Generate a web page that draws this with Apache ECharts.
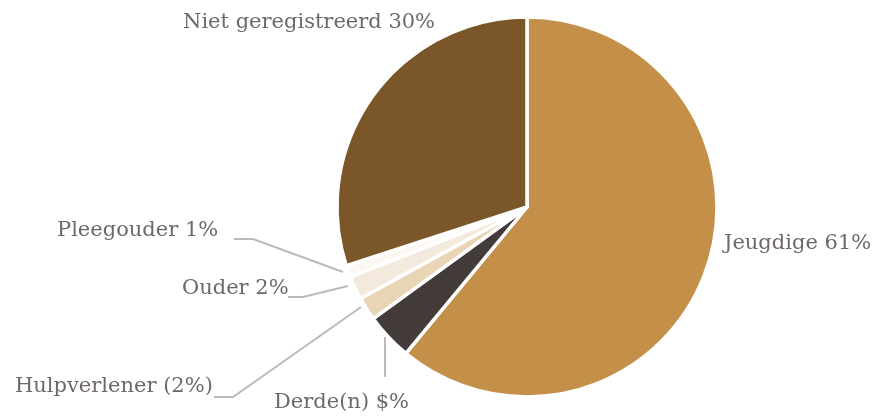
<!DOCTYPE html>
<html>
<head>
<meta charset="utf-8">
<script src="https://cdn.jsdelivr.net/npm/echarts@6/dist/echarts.min.js"></script>
<style>
  html, body { margin: 0; padding: 0; background: #fff; }
  #chart-container { width: 877px; height: 417px; }
</style>
</head>
<body>
<div id="chart-container"></div>
<script>
// chart data
var categories = ['Jeugdige', 'Derde(n)', 'Hulpverlener', 'Ouder', 'Pleegouder', 'Niet geregistreerd'];
var values = [61, 4, 2, 2, 1, 30];
var labelTexts = ['Jeugdige 61%', 'Derde(n) $%', 'Hulpverlener (2%)', 'Ouder 2%', 'Pleegouder 1%', 'Niet geregistreerd 30%'];
var colors = ['#c48f48', '#433b3a', '#e8d5b6', '#f3eadd', '#fbf7f1', '#7a5628'];

// where each label sits (layout only)
var labelSpots = {
  'Jeugdige': { x: 724, y: 244, line: null },
  'Derde(n)': { x: 274, y: 403, line: [[385, 337], [385, 377]] },
  'Hulpverlener': { x: 15, y: 387, line: [[361, 307], [233, 397], [214, 397]] },
  'Ouder': { x: 182, y: 289, line: [[348, 286], [303, 297], [288, 297]] },
  'Pleegouder': { x: 57, y: 231, line: [[343, 272], [253, 239], [234, 239]] },
  'Niet geregistreerd': { x: 183, y: 23, line: null }
};

var chart = echarts.init(document.getElementById('chart-container'));

var pieData = categories.map(function (name, i) {
  return {
    name: name,
    value: values[i],
    label: { formatter: labelTexts[i] },
    labelLine: { show: labelSpots[name].line !== null },
    itemStyle: { color: colors[i] }
  };
});

var option = {
  animation: false,
  series: [
    {
      type: 'pie',
      center: [527, 207],
      radius: 190,
      startAngle: 90,
      clockwise: true,
      avoidLabelOverlap: false,
      emphasis: { disabled: true },
      itemStyle: {
        borderColor: '#ffffff',
        borderWidth: 3.5
      },
      label: {
        show: true,
        position: 'outside',
        color: '#6f6869',
        fontFamily: 'DejaVu Serif',
        fontSize: 21
      },
      labelLine: {
        show: true,
        lineStyle: { color: '#bdb9b9', width: 2 }
      },
      labelLayout: function (params) {
        var spot = labelSpots[categories[params.dataIndex]];
        var out = {
          x: spot.x,
          y: spot.y,
          align: 'left',
          verticalAlign: 'middle'
        };
        if (spot.line) {
          out.labelLinePoints = spot.line;
        }
        return out;
      },
      data: pieData
    }
  ]
};

chart.setOption(option);
</script>
</body>
</html>
